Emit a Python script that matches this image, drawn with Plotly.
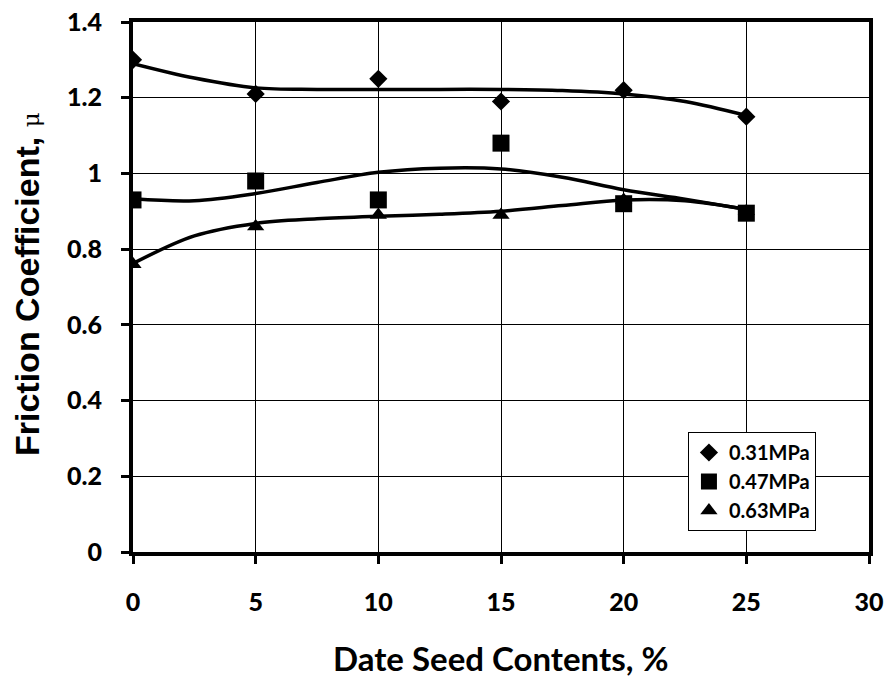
import plotly.graph_objects as go

contents = [0, 5, 10, 15, 20, 25]
mu_031 = [1.30, 1.21, 1.25, 1.19, 1.22, 1.15]
mu_047 = [0.93, 0.98, 0.93, 1.08, 0.92, 0.895]
mu_063 = [0.76, 0.86, 0.89, 0.89, 0.93, 0.90]
series_names = ["0.31MPa", "0.47MPa", "0.63MPa"]
symbols = ["diamond", "square", "triangle-up"]
marker_sizes = [14, 17, 15]

# smoothed trend curves
trend_x = [0, 2.5, 5, 7.5, 10, 12.5, 15, 17.5, 20, 22.5, 25]
trend_031 = [1.29, 1.252, 1.226, 1.222, 1.222, 1.222, 1.222, 1.219, 1.21, 1.19, 1.153]
trend_047 = [0.933, 0.928, 0.947, 0.976, 1.003, 1.014, 1.012, 0.99, 0.957, 0.932, 0.905]
trend_063 = [0.762, 0.835, 0.868, 0.88, 0.887, 0.892, 0.9, 0.915, 0.93, 0.928, 0.905]

x_ticks = [0, 5, 10, 15, 20, 25, 30]
y_ticks = [0, 0.2, 0.4, 0.6, 0.8, 1.0, 1.2, 1.4]
y_tick_text = ["0", "0.2", "0.4", "0.6", "0.8", "1", "1.2", "1.4"]

LABEL_FONT = "Lato"
fig = go.Figure()

for ty in [trend_031, trend_047, trend_063]:
    fig.add_trace(go.Scatter(x=trend_x, y=ty, mode="lines",
                             line=dict(color="black", width=3.5, shape="spline", smoothing=1.0),
                             showlegend=False, hoverinfo="skip"))

for name, ys, sym, sz in zip(series_names, [mu_031, mu_047, mu_063], symbols, marker_sizes):
    fig.add_trace(go.Scatter(x=contents, y=ys, mode="markers", name=name,
                             marker=dict(symbol=sym, size=sz, color="black",
                                         line=dict(width=0))))

axis_common = dict(showline=True, linecolor="black", linewidth=4, mirror=True,
                   showgrid=True, gridcolor="black", gridwidth=1,
                   ticks="outside", ticklen=8, tickwidth=3, tickcolor="black",
                   zeroline=False, automargin=False,
                   tickfont=dict(family=LABEL_FONT, size=25, color="black", weight=900))

fig.update_xaxes(range=[0, 30], tickvals=x_ticks, ticklabelstandoff=17, **axis_common)
fig.update_yaxes(range=[0, 1.4], tickvals=y_ticks, ticktext=y_tick_text,
                 ticklabelstandoff=14, **axis_common)

fig.update_layout(
    width=891, height=679,
    margin=dict(l=133, r=22, t=22, b=127, autoexpand=False),
    paper_bgcolor="white", plot_bgcolor="white",
    legend=dict(x=0.754, y=0.2264, xanchor="left", yanchor="top",
                bgcolor="white", bordercolor="black", borderwidth=1,
                font=dict(family=LABEL_FONT, size=20, color="black", weight="bold"),
                itemwidth=30, tracegroupgap=0),
    annotations=[
        dict(text="Date Seed Contents, %", xref="paper", yref="paper",
             x=0.5, y=0, yshift=-106, xanchor="center", yanchor="middle", showarrow=False,
             font=dict(family=LABEL_FONT, size=33, color="black", weight="bold")),
        dict(text="<b>Friction Coefficient, </b><span style='font-family:DejaVu Serif;font-size:23px'>μ</span>",
             xref="paper", yref="paper", x=0, xshift=-106, y=0.5, yshift=3,
             xanchor="center", yanchor="middle", textangle=-90, showarrow=False,
             font=dict(family="Liberation Sans", size=34, color="black")),
    ],
)

fig.write_html("out.html")
